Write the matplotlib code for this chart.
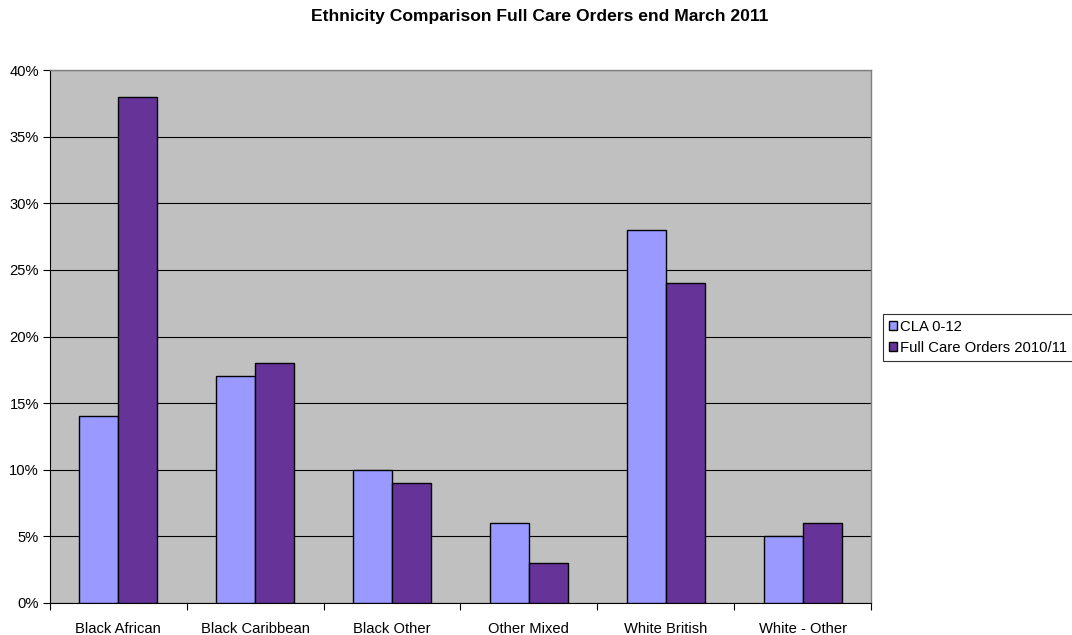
import numpy as np
import matplotlib.pyplot as plt
from matplotlib.ticker import FuncFormatter, FixedLocator

plt.rcParams['font.family'] = ['Liberation Sans', 'DejaVu Sans']

categories = ['Black African', 'Black Caribbean', 'Black Other', 'Other Mixed', 'White British', 'White - Other']
cla = [14, 17, 10, 6, 28, 5]
full_care = [38, 18, 9, 3, 24, 6]
series_names = ['CLA 0-12', 'Full Care Orders 2010/11']

fig = plt.figure(figsize=(10.72, 6.35), dpi=100)
ax = fig.add_axes([50/1072, 1-603/635, 821/1072, 533/635])
ax.set_facecolor('#C0C0C0')

x = np.arange(len(categories))
w = 0.285
ax.bar(x - w/2, cla, w, color='#9999FF', edgecolor='black', linewidth=1, label=series_names[0], zorder=3)
ax.bar(x + w/2, full_care, w, color='#663399', edgecolor='black', linewidth=1, label=series_names[1], zorder=3)

ax.set_xlim(-0.5, len(categories) - 0.5)
ax.set_ylim(0, 40)
ax.set_yticks(np.arange(0, 41, 5))
ax.yaxis.set_major_formatter(FuncFormatter(lambda v, p: f'{v:.0f}%'))
ax.yaxis.grid(True, color='black', linewidth=0.8, zorder=1)
ax.set_axisbelow(True)

# category labels between boundary ticks
ax.set_xticks(x)
ax.set_xticklabels(categories, fontsize=10.6)
ax.tick_params(axis='x', which='major', length=0, pad=14)
ax.xaxis.set_minor_locator(FixedLocator(np.arange(-0.5, len(categories), 1)))
ax.tick_params(axis='x', which='minor', length=5, direction='out', width=0.8, color='black')
ax.tick_params(axis='y', length=5, direction='out', width=0.8, labelsize=10.6, pad=3)

for s in ['top', 'right']:
    ax.spines[s].set_color('#808080')
    ax.spines[s].set_linewidth(1)
for s in ['left', 'bottom']:
    ax.spines[s].set_color('black')
    ax.spines[s].set_linewidth(0.8)

fig.text(540/1072, 1-17/635, 'Ethnicity Comparison Full Care Orders end March 2011',
         ha='center', va='center', fontsize=12.6, fontweight='bold')

leg = fig.legend(loc='upper left', bbox_to_anchor=(883/1072, 1-314/635), fontsize=10.7,
                 frameon=True, fancybox=False, edgecolor='black', handlelength=0.55,
                 handleheight=0.55, handletextpad=0.2, borderpad=0.4, labelspacing=0.45,
                 borderaxespad=0)
leg.get_frame().set_linewidth(0.8)

fig.savefig('out.png', dpi=100)
